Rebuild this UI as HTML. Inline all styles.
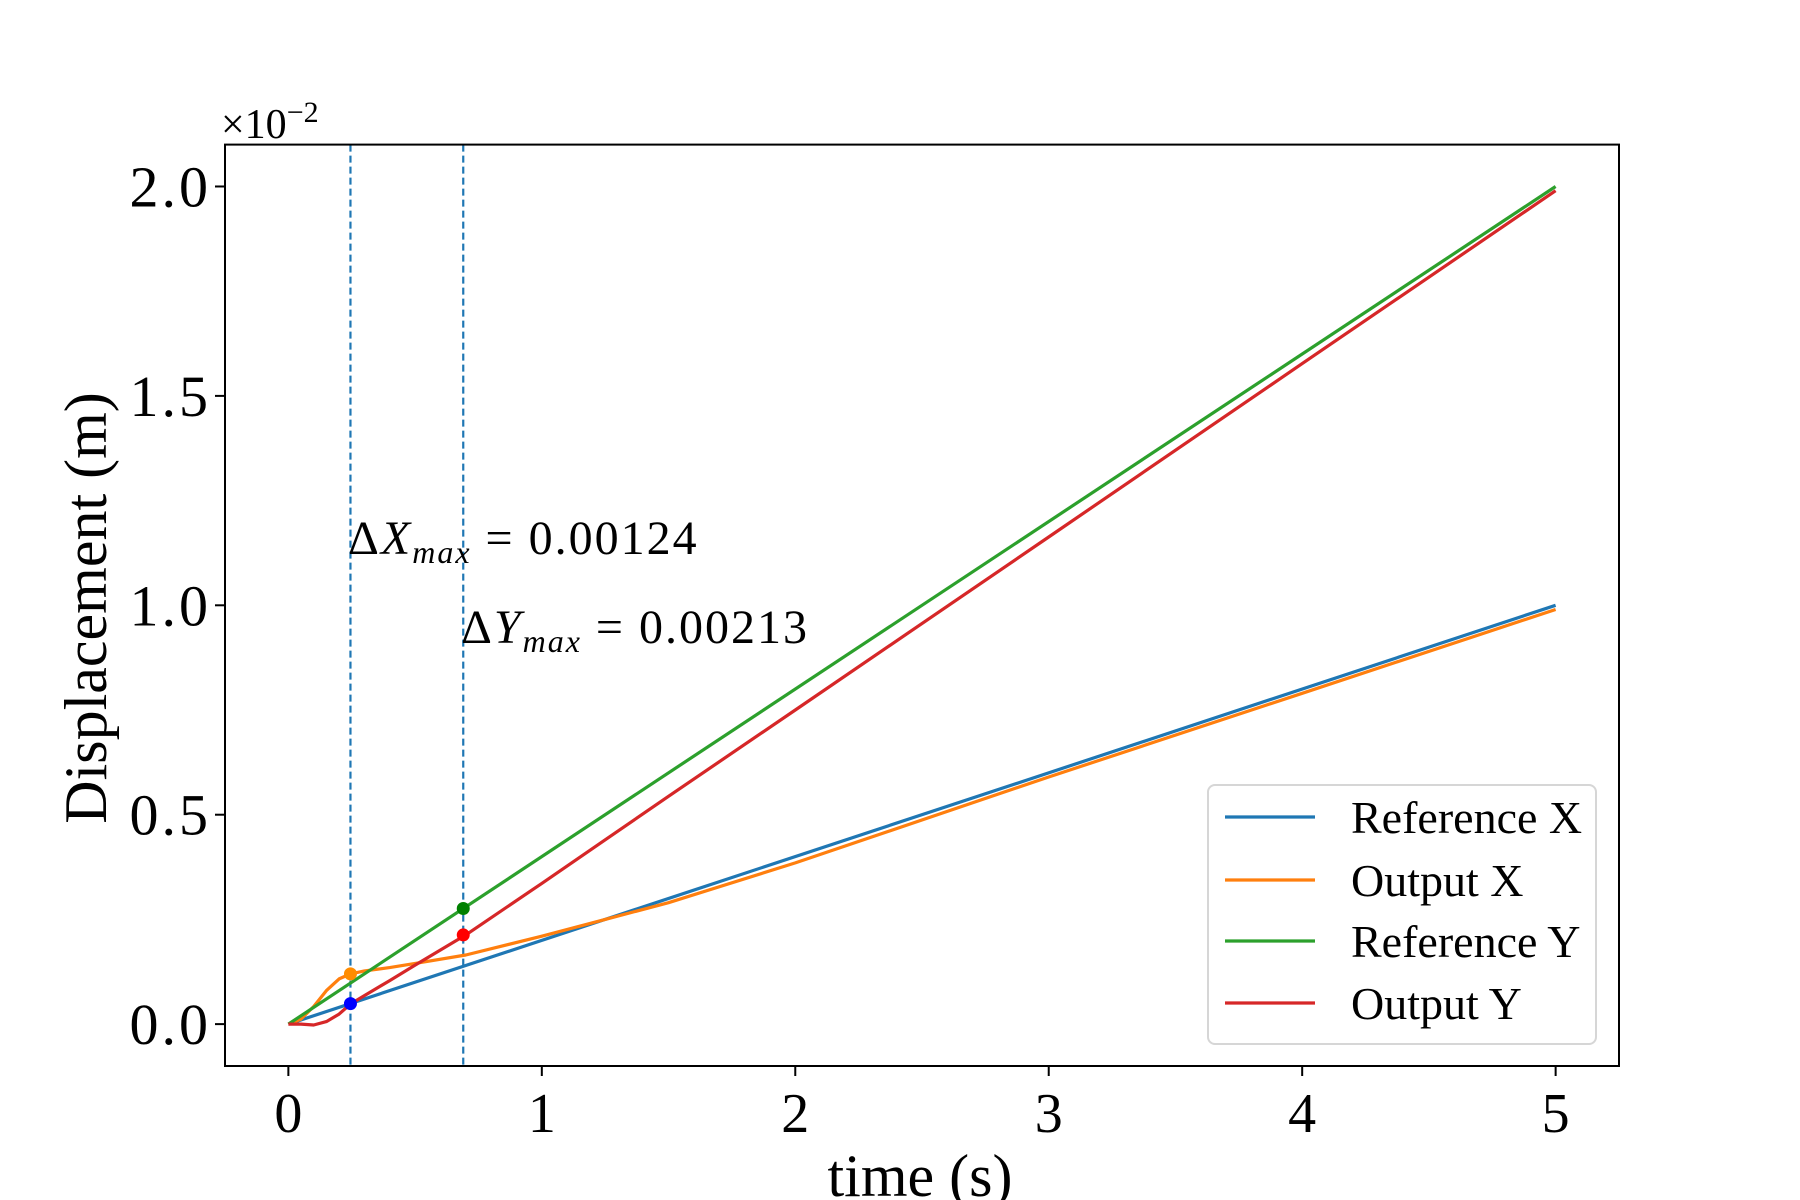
<!DOCTYPE html>
<html><head><meta charset="utf-8"><style>
body{margin:0;background:#fff}
svg text{font-family:"Liberation Serif",serif;fill:#000}
</style></head><body>
<svg id="chart" width="1800" height="1200" viewBox="0 0 1800 1200" xmlns="http://www.w3.org/2000/svg" style="position:absolute;left:0;top:0">
<rect width="1800" height="1200" fill="#fff"/>
<g id="plot"></g>
</svg>
<script>
const tRef=[0,5];
const refX=[0,1.0];
const refY=[0,2.0];
const tOut=[0,0.05,0.1,0.15,0.2,0.245,0.3,0.4,0.5,0.7,1.0,1.25,1.5,2,3,4,5];
const outX=[0,0.012,0.042,0.08,0.108,0.12,0.127,0.135,0.145,0.165,0.21,0.25,0.29,0.385,0.59,0.79,0.99];
const outY=[0,0,-0.002,0.006,0.024,0.048,0.068,0.104,0.141,0.213,0.336,0.44,0.544,0.75,1.163,1.577,1.99];
const vlines=[0.245,0.69];
const markers=[[0.245,0.12,'#ff8c00'],[0.245,0.049,'#0000ff'],[0.69,0.276,'#008000'],[0.69,0.213,'#ff0000']];
const xTicks=[0,1,2,3,4,5];
const yTicks=[0,0.5,1.0,1.5,2.0];
const yTickLabels=['0.0','0.5','1.0','1.5','2.0'];

const L=225,R=1619,T=144.6,B=1066;
const xmin=-0.25,xmax=5.25,ymin=-0.1,ymax=2.1;
const X=v=>L+(v-xmin)/(xmax-xmin)*(R-L);
const Y=v=>B-(v-ymin)/(ymax-ymin)*(B-T);
const NS='http://www.w3.org/2000/svg';
const g=document.getElementById('plot');
function mk(tag,attrs,parent){const e=document.createElementNS(NS,tag);for(const k in attrs)e.setAttribute(k,attrs[k]);(parent||g).appendChild(e);return e;}

vlines.forEach((v,i)=>{const e=mk('line',{x1:X(v),x2:X(v),y1:T,y2:B,stroke:'#1f77b4','stroke-width':2.2,'stroke-dasharray':'7,4'});

});

function series(ts,vs,color,name){
 const d=ts.map((t,i)=>(i?'L':'M')+X(t).toFixed(1)+','+Y(vs[i]).toFixed(1)).join(' ');
 const e=mk('path',{d:d,fill:'none',stroke:color,'stroke-width':3.2,'stroke-linejoin':'round'});
 
 
}
series(tRef,refX,'#1f77b4','reference-x-line');
series(tOut,outX,'#ff7f0e','output-x-line');
series(tRef,refY,'#2ca02c','reference-y-line');
series(tOut,outY,'#d62728','output-y-line');

markers.forEach(m=>{const e=mk('circle',{cx:X(m[0]),cy:Y(m[1]),r:6.5,fill:m[2]});

});

const fr=mk('rect',{x:L,y:T,width:R-L,height:B-T,fill:'none',stroke:'#000','stroke-width':2});



xTicks.forEach(v=>{
 mk('line',{x1:X(v),x2:X(v),y1:B,y2:B+10,stroke:'#000','stroke-width':2});
 const t=mk('text',{x:X(v),y:B+66,'text-anchor':'middle','font-size':56});t.textContent=v;
 
 
});
yTicks.forEach((v,i)=>{
 mk('line',{x1:L,x2:L-10,y1:Y(v),y2:Y(v),stroke:'#000','stroke-width':2});
 const t=mk('text',{x:L-14,y:Y(v)+20,'text-anchor':'end','font-size':58,'letter-spacing':3});t.textContent=yTickLabels[i];
 
 
});
</script>
<svg style="position:absolute;left:0;top:0" width="1800" height="1200">
<text x="221" y="138" font-size="42" font-family="Liberation Serif, serif">×10<tspan dy="-16" font-size="30">−2</tspan></text>
<text x="920" y="1196" text-anchor="middle" font-size="60" font-family="Liberation Serif, serif">time (s)</text>
<text transform="translate(106,608) rotate(-90)" text-anchor="middle" font-size="60" font-family="Liberation Serif, serif">Displacement (m)</text>
<text x="348" y="554" font-size="48" letter-spacing="2" font-family="Liberation Serif, serif">Δ<tspan font-style="italic">X</tspan><tspan font-style="italic" font-size="32" dy="9">max</tspan><tspan dy="-9"> = 0.00124</tspan></text>
<text x="461" y="643" font-size="48" letter-spacing="2" font-family="Liberation Serif, serif">Δ<tspan font-style="italic">Y</tspan><tspan font-style="italic" font-size="32" dy="9">max</tspan><tspan dy="-9"> = 0.00213</tspan></text>
<g font-family="Liberation Serif, serif" font-size="46">
<rect x="1208" y="785" width="388" height="259" rx="7" fill="#fff" fill-opacity="0.8" stroke="#d6d6d6" stroke-width="2"/>
<line x1="1225" x2="1315" y1="817" y2="817" stroke="#1f77b4" stroke-width="3.2"/>
<text x="1351" y="833">Reference X</text>
<line x1="1225" x2="1315" y1="880" y2="880" stroke="#ff7f0e" stroke-width="3.2"/>
<text x="1351" y="896">Output X</text>
<line x1="1225" x2="1315" y1="941" y2="941" stroke="#2ca02c" stroke-width="3.2"/>
<text x="1351" y="957">Reference Y</text>
<line x1="1225" x2="1315" y1="1003" y2="1003" stroke="#d62728" stroke-width="3.2"/>
<text x="1351" y="1019">Output Y</text>
</g>
</svg>
</body></html>
